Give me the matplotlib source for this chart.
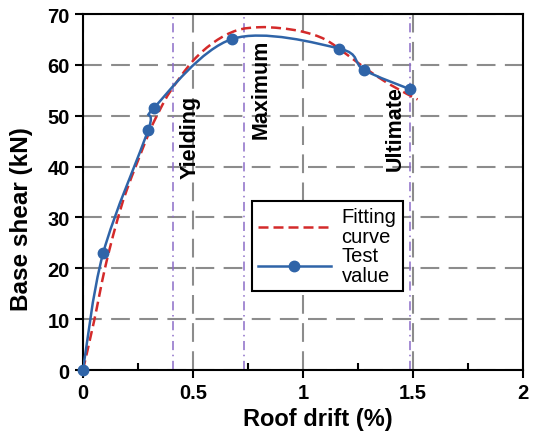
#!/usr/bin/env python3

import matplotlib
matplotlib.use("Agg")
import matplotlib.pyplot as plt
from matplotlib.path import Path
from matplotlib.patches import PathPatch
from matplotlib.lines import Line2D

# test data (roof drift %, base shear kN)
test_drift = [0, 0.092, 0.297, 0.324, 0.679, 1.165, 1.277, 1.486]
test_shear = [0, 23.0, 47.2, 51.6, 65.1, 63.2, 59.0, 55.2]

# fitting curve
fit_drift = [0, 0.05, 0.1, 0.15, 0.2, 0.3, 0.35, 0.4, 0.5, 0.6, 0.7, 0.8, 0.9, 1.0, 1.1, 1.2, 1.3, 1.4, 1.52]
fit_shear = [0, 9.5, 20.0, 28.5, 35.5, 46.6, 51.2, 55.0, 60.8, 64.6, 66.8, 67.4, 67.2, 66.5, 65.0, 62.0, 58.8, 56.0, 53.2]

# characteristic points
stage_x = [0.41, 0.733, 1.485]
stage_names = ["Yielding", "Maximum", "Ultimate"]
stage_text_y = [46, 55.3, 47.6]

blue = "#2F64A8"
red = "#D42A2A"
purple = "#8C6CC8"


def smooth_path(xs, ys):
    # excel-ish smoothed line, bezier segments through the data
    verts = [(xs[0], ys[0])]
    codes = [Path.MOVETO]
    n = len(xs)
    for i in range(n - 1):
        a = i - 1 if i > 0 else i
        b = i + 2 if i + 2 < n else i + 1
        c1 = (xs[i] + (xs[i + 1] - xs[a]) / 6, ys[i] + (ys[i + 1] - ys[a]) / 6)
        c2 = (xs[i + 1] - (xs[b] - xs[i]) / 6, ys[i + 1] - (ys[b] - ys[i]) / 6)
        verts += [c1, c2, (xs[i + 1], ys[i + 1])]
        codes += [Path.CURVE4] * 3
    return Path(verts, codes)


plt.rcParams["font.family"] = ["Liberation Sans", "DejaVu Sans"]

fig = plt.figure(figsize=(5.35, 4.35), dpi=100)
ax = fig.add_axes([0.155, 0.147, 0.823, 0.8185])

ax.set_xlim(0, 2)
ax.set_ylim(0, 70)
ax.set_xticks([0, 0.5, 1, 1.5, 2])
ax.set_xticklabels(["0", "0.5", "1", "1.5", "2"])
ax.set_xticks([0.25, 0.75, 1.25, 1.75], minor=True)
ax.set_yticks(range(0, 71, 10))

ax.grid(True, axis="both", which="major", color="#8c8c8c", lw=1.5, ls=(0, (9, 4.5)))
ax.set_axisbelow(True)

for s in ax.spines.values():
    s.set_linewidth(1.5)
    s.set_color("black")

ax.tick_params(axis="x", which="major", direction="out", length=6, width=1.5, labelsize=14.5)
ax.tick_params(axis="x", which="minor", direction="in", length=5, width=1.5)
ax.tick_params(axis="y", which="major", direction="out", length=6, width=1.5, labelsize=14.5)
for lab in ax.get_xticklabels() + ax.get_yticklabels():
    lab.set_fontweight("bold")

# stage lines
for x, name, ty in zip(stage_x, stage_names, stage_text_y):
    ax.axvline(x, color=purple, lw=1.1, ls=(0, (6, 3, 1, 3)), zorder=2)
    if name == "Ultimate":
        ax.text(x - 0.02, ty, name, rotation=90, ha="right", va="center",
                fontsize=15.5, fontweight="bold")
    else:
        ax.text(x + 0.03, ty, name, rotation=90, ha="left", va="center",
                fontsize=15.5, fontweight="bold")

ax.add_patch(PathPatch(smooth_path(fit_drift, fit_shear), fill=False, edgecolor=red,
                       lw=1.8, ls=(0, (4, 2)), zorder=3))
ax.add_patch(PathPatch(smooth_path(test_drift, test_shear), fill=False, edgecolor=blue,
                       lw=1.8, zorder=4))
ax.plot(test_drift, test_shear, ls="none", marker="o", ms=7.5, color=blue, zorder=5, clip_on=False)

handles = [Line2D([], [], color=red, lw=1.8, ls=(0, (4, 2))),
           Line2D([], [], color=blue, lw=1.8, marker="o", ms=7.5)]
leg = ax.legend(handles, ["Fitting\ncurve", "Test\nvalue"], loc="lower left",
                bbox_to_anchor=(0.384, 0.222), borderaxespad=0, fontsize=14.5,
                frameon=True, fancybox=False, edgecolor="black", framealpha=1,
                handlelength=3.6, handletextpad=0.55, labelspacing=0.0,
                borderpad=0.3)
leg.get_frame().set_linewidth(1.5)
for t in leg.get_texts():
    t.set_linespacing(1.05)

ax.set_xlabel("Roof drift (%)", fontsize=17, fontweight="bold")
ax.set_ylabel("Base shear (kN)", fontsize=17.5, fontweight="bold")
ax.xaxis.set_label_coords(0.533, -0.105)
ax.yaxis.set_label_coords(-0.114, 0.427)

plt.savefig("out.png", dpi=100)
